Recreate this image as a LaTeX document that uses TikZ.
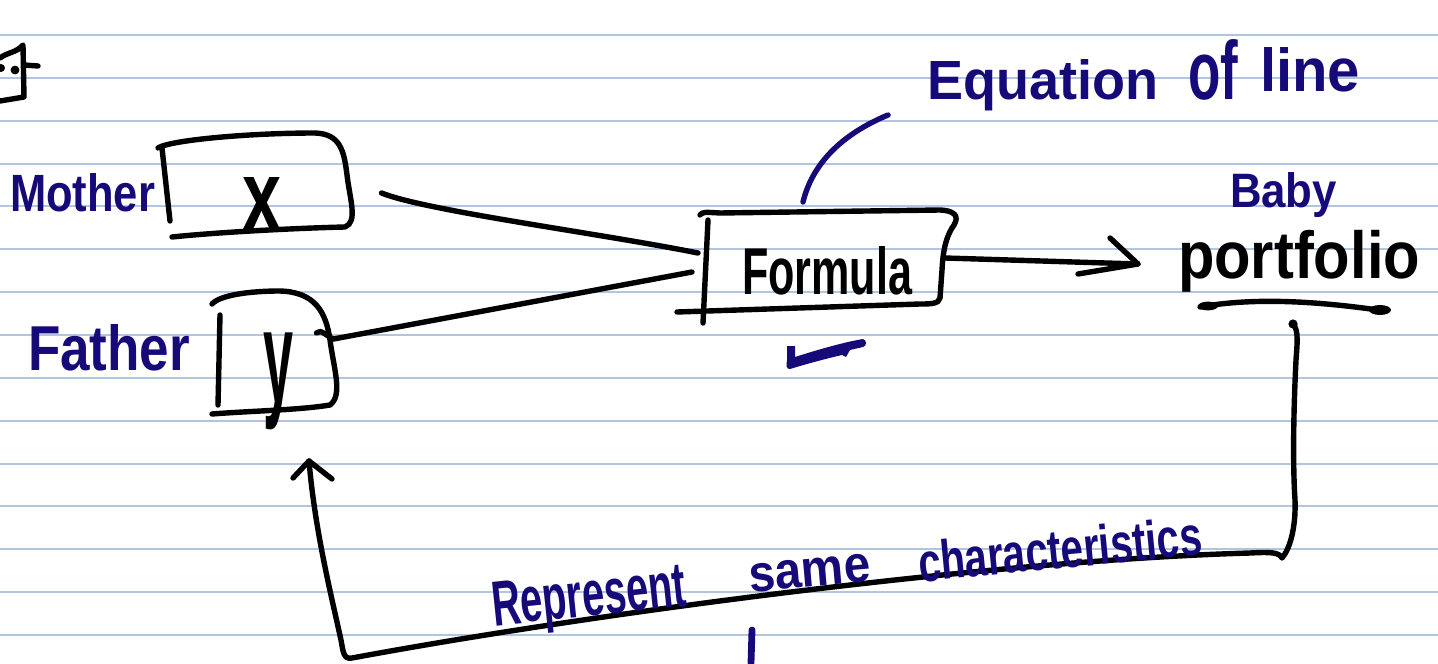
\documentclass[tikz,border=0pt]{standalone}
\usepackage{fontspec}
\setmainfont{Liberation Sans}
\usetikzlibrary{calc}
\definecolor{ruleblue}{RGB}{178,197,223}
\definecolor{penblue}{RGB}{22,10,120}
\begin{document}
\begin{tikzpicture}[x=0.5pt,y=-0.5pt,
  ink/.style={line width=2.7pt,line cap=round,line join=round},
  penline/.style={ink,draw=penblue},
  ruled/.style={draw=ruleblue,line width=1pt},
  area/.style={inner sep=0pt,outer sep=0pt,draw=none},
  word/.style={inner sep=0pt,outer sep=0pt,font=\fontsize{20}{24}\selectfont\bfseries},
  blue word/.style={word,text=penblue}]
\useasboundingbox (0,0) rectangle (1438,663);
\fill[white] (0,0) rectangle (1438,663);

% ruled notebook paper
\foreach \k in {0,...,14}
  \draw[ruled] (0,{35+42.86*\k}) -- (1438,{35+42.86*\k});

% stroke fragment at the top-left edge
\draw[ink] (0,58) .. controls (8,52) and (16,53) .. (23,45) -- (24,97) -- (0,101);
\draw[ink] (24,65) -- (38,66);
\fill (1,68) circle (2pt);
\fill (15,70) circle (2.2pt);

% labels on the left
\node[blue word,anchor=base west] (motherlabel) at (10,212) {\resizebox{72.5pt}{19pt}{Mother}};
\node[blue word,anchor=base west] (fatherlabel) at (28,370) {\resizebox{81pt}{23pt}{Father}};

% invisible areas of the hand-drawn boxes
\node[area,minimum width=97.5pt,minimum height=50pt] (mother) at (257,186) {};
\node[area,minimum width=62.5pt,minimum height=60pt] (father) at (275,353) {};
\node[area,minimum width=125pt,minimum height=48.5pt] (formula) at (826,262) {};

% box outlines
\draw[ink] (162,148) -- (170,221);
\draw[ink] (158,148) .. controls (170,140) and (250,133) .. (315,133)
  .. controls (340,134) and (344,150) .. (347,175)
  .. controls (350,200) and (358,222) .. (345,227)
  .. controls (300,228) and (220,232) .. (172,237);
\draw[ink] (220,315) -- (218,405);
\draw[ink] (212,304) .. controls (220,295) and (250,291) .. (280,291)
  .. controls (315,292) and (326,312) .. (330,340)
  .. controls (334,370) and (343,395) .. (330,405)
  .. controls (300,410) and (250,411) .. (212,414);
\draw[ink] (708,220) -- (703,323);
\draw[ink] (700,215) .. controls (703,212) .. (720,213) -- (940,210)
  .. controls (960,211) and (958,220) .. (952,228)
  .. controls (946,238) and (943,250) .. (942,270) -- (940,298)
  .. controls (939,304) and (930,304) .. (920,304) -- (677,312);

% box contents
\node[word] (xvar) at (262,204) {\resizebox{19.5pt}{26.5pt}{x}};
\node[word] (yvar) at (278,381) {\resizebox*{15pt}{48.5pt}{y}};
\node[word] (formulatext) at (827,271) {\resizebox{85pt}{24pt}{Formula}};

% annotation over the formula
\node[blue word,anchor=base west] (eqword) at (927,100) {\resizebox{115.5pt}{20pt}{Equation}};
\node[blue word,anchor=base west] (ofword) at (1188,100) {\resizebox{25pt}{30pt}{of}};
\node[blue word,anchor=base west] (lineword) at (1260,92) {\resizebox{50pt}{22pt}{line}};
\draw[penline] ($(formula.north)+(-23,-11.5)$) .. controls +(9,-37) and +(-48,20) .. ($(eqword.base west)+(-39,15)$);

% output
\node[blue word,anchor=base west] (baby) at (1230,208) {\resizebox{53.5pt}{17.5pt}{Baby}};
\node[word] (portfolio) at (1299,261) {\resizebox*{121pt}{31pt}{portfolio}};
\draw[ink] (1200,307) .. controls (1250,298) and (1310,300) .. (1385,311);
\fill (1208,306) ellipse (5pt and 2.2pt);
\fill (1380,310) ellipse (5.5pt and 2.5pt);

% tick under the formula
\fill[penblue] (787,346) -- (795,346) -- (795,357)
  .. controls (820,349) and (845,342) .. (863,339)
  .. controls (867,340) and (867,346) .. (863,347) -- (850,350) -- (846,357) -- (842,355)
  .. controls (820,360) and (800,366) .. (790,369)
  .. controls (786,369) and (786,366) .. (787,360) -- cycle;

% inputs into the formula
\draw[ink] ($(mother.east)+(27,7)$) .. controls +(45,18) and +(-100,-20) .. ($(formula.west)+(-3,-9)$);
\draw[ink] ($(father.east)+(-21,-20)$) .. controls +(4,-5) and +(-6,-2) .. ($(father.east)+(-4,-14)$)
  -- ($(formula.west)+(-9,10)$);

% formula to portfolio
\coordinate (arrowtip) at (1138,264);
\draw[ink] ($(formula.east)+(-6,-4)$) -- (arrowtip);
\draw[ink] ($(arrowtip)+(-28,-26)$) -- (arrowtip) -- ($(arrowtip)+(-60,10)$);

% feedback loop back to the father box
\coordinate (backtip) at (309,461);
\fill ($(portfolio.south)+(-6,32)$) circle (2.3pt);
\draw[ink] ($(portfolio.south)+(-6,32)$) .. controls +(6,6) and +(1,-15) .. (1296,360)
  .. controls (1293,420) and (1293,470) .. (1295,500)
  .. controls (1296,530) and (1289,550) .. (1282,558)
  .. controls (1279,552) and (1270,552) .. (1250,553)
  .. controls (1000,560) and (600,612) .. (352,658)
  .. controls (343,660) and (343,650) .. (341,640)
  .. controls (330,590) and (315,530) .. (backtip);
\draw[ink] ($(backtip)+(-16,17)$) -- (backtip) -- ($(backtip)+(23,18)$);

% note along the loop
\node[blue word,anchor=base west,rotate=6] (noteA) at (494,626) {\resizebox{97.5pt}{22pt}{Represent}};
\node[blue word,anchor=base west,rotate=5] (noteB) at (750,592) {\resizebox{61pt}{14pt}{same}};
\node[blue word,anchor=base west,rotate=5.5] (noteC) at (920,582) {\resizebox{142.5pt}{20pt}{characteristics}};
\draw[penline,line width=3.4pt] (752,630) -- (751,663);
\end{tikzpicture}
\end{document}
